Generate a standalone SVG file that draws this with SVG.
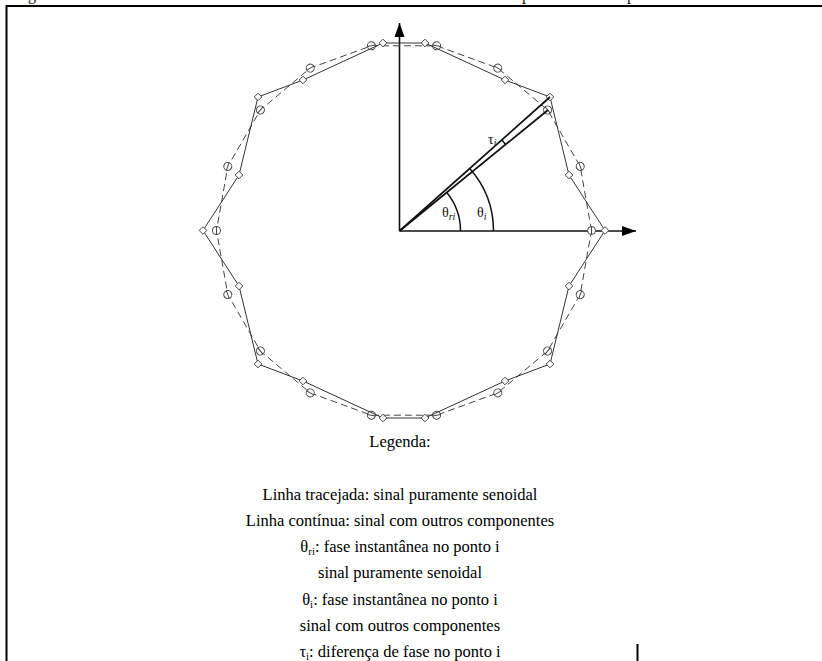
<svg xmlns="http://www.w3.org/2000/svg" width="822" height="661" viewBox="0 0 822 661">
<defs>
<style>
.frame{stroke:#000;stroke-width:2;fill:none}
.axis{stroke:#111;stroke-width:1.6;fill:none}
.ray{stroke:#111;stroke-width:1.8;fill:none}
.arc{stroke:#111;stroke-width:1.5;fill:none}
.solid{stroke:#333;stroke-width:1;fill:none;marker-start:url(#dia);marker-mid:url(#dia)}
.dashed{stroke:#444;stroke-width:1;fill:none;stroke-dasharray:7 4;marker-start:url(#cir);marker-mid:url(#cir)}
.lbl{font-family:"Liberation Serif","Times New Roman",serif;fill:#111}
.leg{font-family:"Liberation Serif","Times New Roman",serif;font-size:16.5px;fill:#000;text-anchor:middle}
</style>
<marker id="arr" markerUnits="userSpaceOnUse" orient="auto" refX="14" refY="0" markerWidth="16" markerHeight="12" viewBox="0 -6 16 12" overflow="visible">
<path d="M0,-5 L14,0 L0,5 Z" fill="#000"/>
</marker>
<marker id="dia" markerUnits="userSpaceOnUse" orient="0" refX="0" refY="0" markerWidth="10" markerHeight="10" viewBox="-5 -5 10 10" overflow="visible">
<path d="M0,-3.8 L3.8,0 L0,3.8 L-3.8,0 Z" fill="#fff" stroke="#444" stroke-width="1"/>
</marker>
<marker id="cir" markerUnits="userSpaceOnUse" orient="auto" refX="0" refY="0" markerWidth="10" markerHeight="10" viewBox="-5 -5 10 10" overflow="visible">
<circle r="4" fill="#fff" stroke="#444" stroke-width="1"/>
<line x1="-4" y1="0" x2="4" y2="0" stroke="#444" stroke-width="1"/>
</marker>
</defs>
<rect width="822" height="661" fill="#fff"/>

<g id="caption-fragment" class="lbl" font-size="16">
<text x="28" y="-0.5">g</text>
<text x="522" y="-0.5">p</text>
<text x="627" y="-0.5">p</text>
</g>

<g id="frame">
<line class="frame" x1="6" y1="6" x2="822" y2="6"/>
<line class="frame" x1="6.5" y1="5" x2="6.5" y2="661"/>
<line class="frame" x1="637.5" y1="644" x2="637.5" y2="661"/>
</g>

<g id="axes">
<line class="axis" x1="399.5" y1="231" x2="636" y2="231" marker-end="url(#arr)"/>
<line class="axis" x1="399.5" y1="231" x2="399.5" y2="23" marker-end="url(#arr)"/>
</g>

<g id="pure-signal">
<polygon class="dashed" points="591.5,230.5 580.2,166.4 547.6,110 497.8,68.1 436.6,45.8 371.4,45.8 310.2,68.1 260.4,110 227.8,166.4 216.5,230.5 227.8,294.6 260.4,351 310.2,392.9 371.4,415.2 436.6,415.2 497.8,392.9 547.6,351 580.2,294.6"/>
</g>

<g id="distorted-signal">
<polygon class="solid" points="605,230.5 569,175 550,97 505,80 425,43 383,43 303,80 258,97 239,175 203,230.5 239,286 258,364 303,381 383,418 425,418 505,381 550,364 569,286"/>
</g>

<g id="connectors">
<line class="ray" x1="399.5" y1="231" x2="550" y2="97"/>
<line class="ray" x1="399.5" y1="231" x2="548" y2="110"/>
<path class="arc" d="M460.5,231 A61,61 0 0 0 446.8,192.5"/>
<path class="arc" d="M493.5,231 A94,94 0 0 0 469.7,168.5"/>
<path class="arc" d="M505.7,144.4 A137,137 0 0 0 501.8,139.9"/>
</g>

<g id="labels" class="lbl">
<text x="442" y="217" font-size="14">θ<tspan font-size="10" font-style="italic" dy="3">ri</tspan></text>
<text x="477" y="217" font-size="14">θ<tspan font-size="10" font-style="italic" dy="3">i</tspan></text>
<text x="488" y="144" font-size="14">τ<tspan font-size="10" font-style="italic" dy="2">i</tspan></text>
</g>

<g id="legend">
<text class="leg" x="400" y="447">Legenda:</text>
<text class="leg" x="400" y="499.5">Linha tracejada: sinal puramente senoidal</text>
<text class="leg" x="400" y="525.75">Linha contínua: sinal com outros componentes</text>
<text class="leg" x="400" y="552">θ<tspan font-size="11" dy="3">ri</tspan><tspan dy="-3">: fase instantânea no ponto i</tspan></text>
<text class="leg" x="400" y="578.25">sinal puramente senoidal</text>
<text class="leg" x="400" y="604.5">θ<tspan font-size="11" dy="3">i</tspan><tspan dy="-3">: fase instantânea no ponto i</tspan></text>
<text class="leg" x="400" y="630.75">sinal com outros componentes</text>
<text class="leg" x="400" y="657">τ<tspan font-size="11" dy="3">i</tspan><tspan dy="-3">: diferença de fase no ponto i</tspan></text>
</g>
</svg>
